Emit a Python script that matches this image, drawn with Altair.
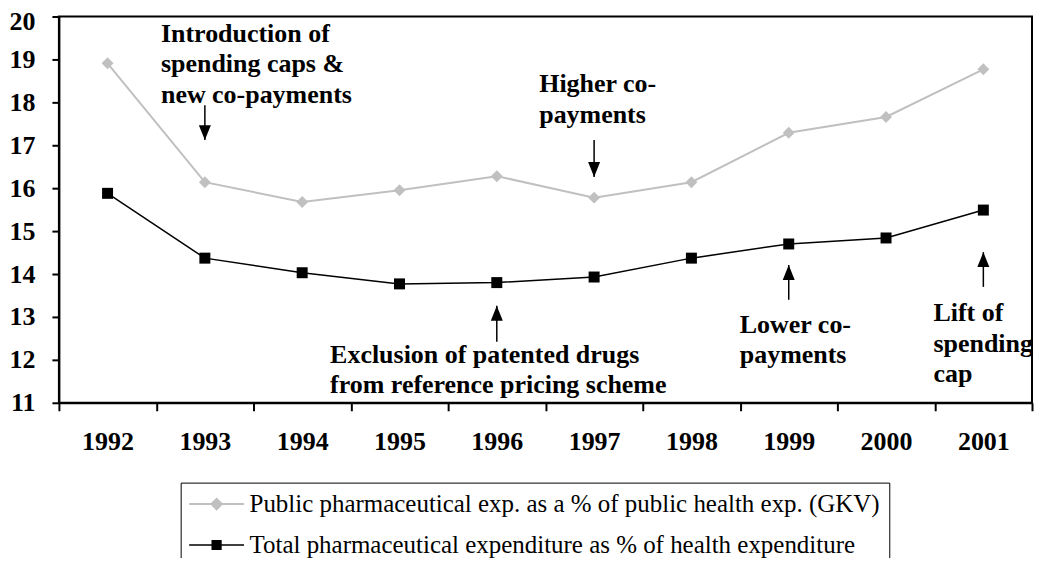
import altair as alt
import pandas as pd

# ---- data ----
years = ["1992", "1993", "1994", "1995", "1996", "1997", "1998", "1999", "2000", "2001"]
gkv_share = [18.91, 16.14, 15.68, 15.95, 16.28, 15.78, 16.14, 17.29, 17.66, 18.77]
total_share = [15.88, 14.37, 14.03, 13.77, 13.80, 13.93, 14.37, 14.70, 14.84, 15.49]
series_names = [
    "Public pharmaceutical exp. as a % of public health exp. (GKV)",
    "Total pharmaceutical expenditure as % of health expenditure",
]

# annotations: (group, year, y value of text baseline, text)
ann_group = ["a", "a", "a", "b", "b", "c", "c", "d", "d", "e", "e", "e"]
ann_year = ["1993", "1993", "1993", "1997", "1997", "1996", "1996", "1999", "1999", "2001", "2001", "2001"]
ann_value = [19.40, 18.70, 17.99, 18.23, 17.51, 11.93, 11.23, 12.63, 11.93, 12.91, 12.19, 11.49]
ann_text = [
    "Introduction of", "spending caps &", "new co-payments",
    "Higher co-", "payments",
    "Exclusion of patented drugs", "from reference pricing scheme",
    "Lower co-", "payments",
    "Lift of", "spending", "cap",
]
# arrows: year, tail value, tip value, direction
arr_year = ["1993", "1997", "1996", "1999", "2001"]
arr_tail = [17.93, 17.12, 12.42, 13.40, 13.70]
arr_tip = [17.12, 16.26, 13.26, 14.21, 14.51]
arr_dir = ["down", "down", "up", "up", "up"]

df_g = pd.DataFrame({"year": years, "value": gkv_share})
df_t = pd.DataFrame({"year": years, "value": total_share})
df_leg = pd.DataFrame({"year": years * 2, "value": gkv_share + total_share,
                       "series": [series_names[0]] * 10 + [series_names[1]] * 10})
df_ann = pd.DataFrame({"group": ann_group, "year": ann_year, "value": ann_value, "text": ann_text})
df_arr = pd.DataFrame({"year": arr_year, "tail": arr_tail, "tip": arr_tip, "dir": arr_dir})

FONT = "Liberation Serif, Times New Roman, serif"
GRAY = "#C0C0C0"

xs = alt.Scale(type="band", domain=years, paddingInner=0, paddingOuter=0)
ys = alt.Scale(domain=[11, 20], nice=False, zero=False)
xaxis = alt.Axis(title=None, tickBand="extent", grid=False, labelAngle=0, tickSize=8, tickWidth=2,
                 tickColor="black", domainColor="black", domainWidth=2, labelPadding=18,
                 labelFont=FONT, labelFontSize=26, labelFontWeight="bold", labelColor="black")
yaxis = alt.Axis(title=None, values=list(range(11, 21)), grid=False, tickSize=7, tickWidth=2,
                 tickColor="black", domainColor="black", domainWidth=2, labelPadding=17,
                 labelOffset={"condition": {"test": "datum.value == 20", "value": 5}, "value": 0},
                 labelFont=FONT, labelFontSize=26, labelFontWeight="bold", labelColor="black")

X = alt.X("year:O", scale=xs, axis=xaxis)
Y = alt.Y("value:Q", scale=ys, axis=yaxis)

line_g = alt.Chart(df_g).mark_line(color=GRAY, strokeWidth=2).encode(x=X, y=Y)
pts_g = alt.Chart(df_g).mark_point(shape="diamond", filled=True, size=144, color=GRAY, opacity=1).encode(x=X, y=Y)
line_t = alt.Chart(df_t).mark_line(color="black", strokeWidth=1.5).encode(x=X, y=Y)
pts_t = alt.Chart(df_t).mark_point(shape="square", filled=True, size=121, color="black", opacity=1).encode(x=X, y=Y)

# arrows
rules = alt.Chart(df_arr).mark_rule(color="black", strokeWidth=1.5).encode(
    x=X, y=alt.Y("tail:Q", scale=ys, axis=yaxis), y2="tip:Q")
head_down = alt.Chart(df_arr).transform_filter("datum.dir == 'down'").mark_point(
    shape="M0,0L-0.8,-2L0.8,-2Z", filled=True, size=225, color="black", opacity=1
).encode(x=X, y=alt.Y("tip:Q", scale=ys, axis=yaxis))
head_up = alt.Chart(df_arr).transform_filter("datum.dir == 'up'").mark_point(
    shape="M0,0L-0.8,2L0.8,2Z", filled=True, size=225, color="black", opacity=1
).encode(x=X, y=alt.Y("tip:Q", scale=ys, axis=yaxis))

# annotation texts
group_dx = {"a": -44, "b": -55, "c": -167, "d": -49, "e": -50}
texts = []
for g, dx in group_dx.items():
    texts.append(
        alt.Chart(df_ann).transform_filter(f"datum.group == '{g}'").mark_text(
            align="left", baseline="alphabetic", dx=dx, font=FONT, fontSize=26,
            fontWeight="bold", color="black"
        ).encode(x=X, y=Y, text="text:N")
    )

# legend-only layer
path_g = "M-4.58,-0.17H4.58V0.17H-4.58Z M-1.1,0L0,-1.1L1.1,0L0,1.1Z"
path_t = "M-4.58,-0.13H4.58V0.13H-4.58Z M-0.85,-0.85H0.85V0.85H-0.85Z"
leg = alt.Legend(title=None, orient="none", legendX=122, legendY=467, padding=9,
                 symbolOffset=14.5, labelOffset=20.5, rowPadding=15, symbolSize=144,
                 symbolStrokeWidth=0, labelFont=FONT, labelFontSize=25, labelColor="black",
                 labelLimit=1000, strokeColor="black", direction="vertical")
legend_layer = alt.Chart(df_leg).transform_filter("false").mark_point(filled=True, opacity=1).encode(
    color=alt.Color("series:N", scale=alt.Scale(domain=series_names, range=[GRAY, "black"]), legend=leg),
    shape=alt.Shape("series:N", scale=alt.Scale(domain=series_names, range=[path_g, path_t]), legend=leg),
)

chart = alt.layer(line_g, line_t, pts_g, pts_t, rules, head_down, head_up, *texts, legend_layer).properties(
    width=975, height=387,
    padding={"left": 51, "top": 8, "right": 2, "bottom": 155},
    autosize=alt.AutoSizeParams(type="none"),
).configure_view(stroke="black", strokeWidth=2)

chart.save("out.html", embed_options={"renderer": "svg", "actions": False})
